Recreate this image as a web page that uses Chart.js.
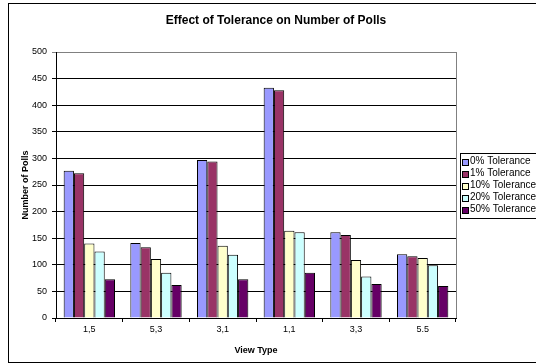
<!DOCTYPE html>
<html>
<head>
<meta charset="utf-8">
<script src="https://cdn.jsdelivr.net/npm/chart.js@4"></script>
<style>
  html, body { margin: 0; padding: 0; background: #fff; overflow: hidden; width: 536px; height: 364px; }
  canvas { display: block; }
</style>
</head>
<body>
<canvas id="pollsChart" width="552" height="364"></canvas>
<script>
var viewTypes = ['1,5', '5,3', '3,1', '1,1', '3,3', '5.5'];
var tol0  = [277, 141, 297, 433, 161, 120];
var tol1  = [272, 133, 294, 428, 156, 116];
var tol10 = [140, 111, 136, 164, 109, 113];
var tol20 = [125,  85, 119, 161,  78,  99];
var tol50 = [ 73,  62,  73,  85,  64,  60];
var seriesNames = ['0% Tolerance', '1% Tolerance', '10% Tolerance', '20% Tolerance', '50% Tolerance'];
var seriesColors = ['#9999FF', '#993366', '#FFFFCC', '#CCFFFF', '#660066'];

var FONT = '"Liberation Sans", Arial, sans-serif';
Chart.defaults.font.family = FONT;
Chart.defaults.color = '#000';

var allValues = [tol0, tol1, tol10, tol20, tol50];
var datasets = allValues.map(function (vals, i) {
  return {
    label: seriesNames[i],
    data: vals,
    backgroundColor: seriesColors[i],
    borderColor: '#000',
    borderWidth: 1,
    categoryPercentage: 0.77,
    barPercentage: 1.0
  };
});

// outer frame, title, plot border and the boxed legend (Excel look)
var excelFrame = {
  id: 'excelFrame',
  beforeDraw: function (chart) {
    var c = chart.ctx;
    c.save();
    c.fillStyle = '#fff';
    c.fillRect(0, 0, chart.width, chart.height);
    c.restore();
  },
  afterDraw: function (chart) {
    var c = chart.ctx, a = chart.chartArea;
    c.save();
    // chart frame
    c.strokeStyle = '#000';
    c.lineWidth = 1;
    c.strokeRect(8.5, 3.5, 536, 359);
    // right plot border
    c.strokeStyle = '#808080';
    c.beginPath();
    c.moveTo(Math.round(a.right) + 0.5, a.top);
    c.lineTo(Math.round(a.right) + 0.5, a.bottom);
    c.stroke();
    // title
    c.fillStyle = '#000';
    c.font = 'bold 12px ' + FONT;
    c.textAlign = 'center';
    c.textBaseline = 'middle';
    c.fillText('Effect of Tolerance on Number of Polls', 276, 21);
    // legend
    var lx = 460.5, ly = 153.5, lw = 84, lh = 65;
    c.strokeStyle = '#000';
    c.strokeRect(lx, ly, lw, lh);
    c.font = '10px ' + FONT;
    c.textAlign = 'left';
    chart.data.datasets.forEach(function (ds, i) {
      var y = 161.5 + i * 12;
      c.fillStyle = ds.backgroundColor;
      c.fillRect(462.5, Math.round(y - 3) + 0.5, 6, 6);
      c.strokeRect(462.5, Math.round(y - 3) + 0.5, 6, 6);
      c.fillStyle = '#000';
      c.fillText(ds.label, 470, y);
    });
    c.restore();
  }
};

new Chart('pollsChart', {
  type: 'bar',
  data: { labels: viewTypes, datasets: datasets },
  options: {
    responsive: false,
    animation: false,
    layout: { padding: { left: 8, top: 52, right: 96, bottom: 8 } },
    plugins: {
      legend: { display: false },
      title: { display: false },
      tooltip: { enabled: false }
    },
    scales: {
      x: {
        afterFit: function (s) { s.height = 38; },
        grid: { offset: true, drawOnChartArea: false, drawTicks: true, tickLength: 4, color: '#000' },
        border: { color: '#000' },
        ticks: { padding: 2, font: { size: 9 }, color: '#000', maxRotation: 0 },
        title: { display: true, text: 'View Type', font: { size: 9, weight: 'bold' }, color: '#000', padding: { top: 4, bottom: 0 } }
      },
      y: {
        min: 0,
        max: 500,
        afterFit: function (s) { s.width = 48; },
        grid: {
          tickLength: 4,
          color: function (ctx) { return ctx.tick && ctx.tick.value === 500 ? '#808080' : '#000'; }
        },
        border: { color: '#000' },
        ticks: { stepSize: 50, padding: 5, font: { size: 9 }, color: '#000' },
        title: { display: true, text: 'Number of Polls', font: { size: 9, weight: 'bold' }, color: '#000', padding: { top: 12, bottom: 0 } }
      }
    }
  },
  plugins: [excelFrame]
});
</script>
</body>
</html>
